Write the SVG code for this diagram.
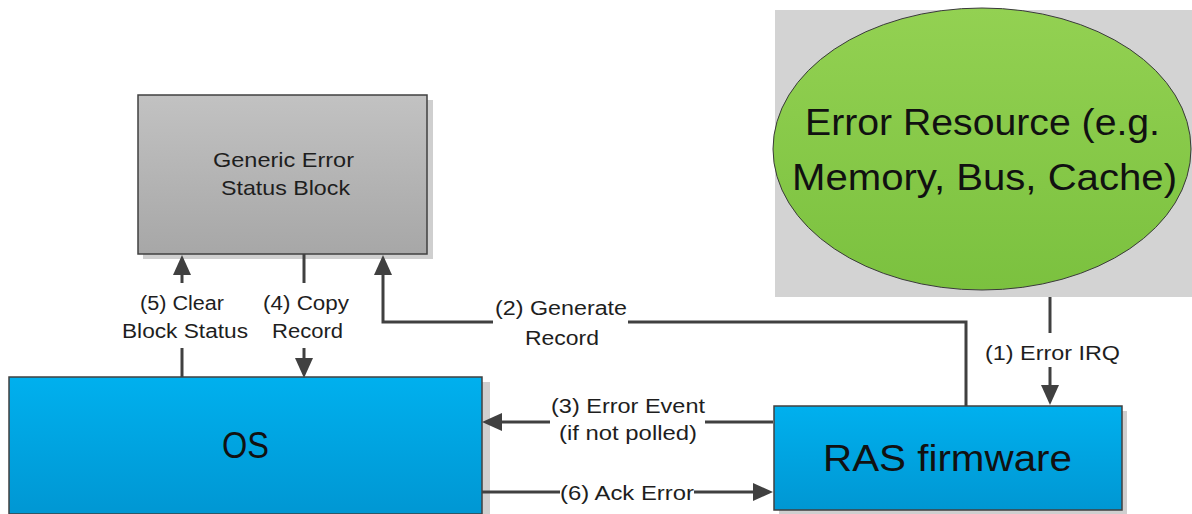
<svg xmlns="http://www.w3.org/2000/svg" width="1192" height="514" viewBox="0 0 1192 514">
<defs>
<linearGradient id="gBlue" x1="0" y1="0" x2="0" y2="1"><stop offset="0" stop-color="#00b0ee"/><stop offset="1" stop-color="#0097d3"/></linearGradient>
<linearGradient id="gGray" x1="0" y1="0" x2="0" y2="1"><stop offset="0" stop-color="#c2c2c2"/><stop offset="1" stop-color="#a7a7a7"/></linearGradient>
<linearGradient id="gGreen" x1="0" y1="0" x2="0" y2="1"><stop offset="0" stop-color="#93d152"/><stop offset="1" stop-color="#7bc13f"/></linearGradient>
<marker id="ah" markerWidth="20" markerHeight="18" refX="10" refY="9" orient="auto" markerUnits="userSpaceOnUse"><path d="M0,0 L20,9 L0,18 z" fill="#404040"/></marker>
<style>
.box{stroke:#404040;stroke-width:1.5}
.shadow{fill:#cfcfcf}
.conn{fill:none;stroke:#404040;stroke-width:3}
.lbl{font-family:"Liberation Sans",Arial,sans-serif;font-size:20px;fill:#1e1e1e;text-anchor:middle}
.big{font-family:"Liberation Sans",Arial,sans-serif;font-size:36px;fill:#111;text-anchor:middle}
.mid{font-family:"Liberation Sans",Arial,sans-serif;font-size:21px;fill:#1e1e1e;text-anchor:middle}
</style>
</defs>
<rect width="1192" height="514" fill="#ffffff"/>

<g id="error-resource">
<rect x="775" y="10" width="417" height="287" fill="#d3d3d3"/>
<ellipse cx="982" cy="149" rx="209" ry="141" fill="url(#gGreen)" stroke="#3a3a3a" stroke-width="1"/>
<text class="big" x="982.5" y="135" textLength="355" lengthAdjust="spacingAndGlyphs">Error Resource (e.g.</text>
<text class="big" x="984.5" y="190" textLength="385" lengthAdjust="spacingAndGlyphs">Memory, Bus, Cache)</text>
</g>

<g id="generic-error-status-block">
<rect class="shadow" x="143" y="100" width="290" height="159"/>
<rect class="box" x="138" y="95" width="289" height="159" fill="url(#gGray)"/>
<text class="mid" x="283.5" y="167" textLength="141" lengthAdjust="spacingAndGlyphs">Generic Error</text>
<text class="mid" x="285.5" y="195" textLength="129" lengthAdjust="spacingAndGlyphs">Status Block</text>
</g>

<g id="os">
<rect class="shadow" x="15" y="382" width="475" height="132"/>
<rect class="box" x="9" y="377" width="473" height="137" fill="url(#gBlue)"/>
<text class="big" x="245.5" y="458" font-size="38" textLength="47" lengthAdjust="spacingAndGlyphs">OS</text>
</g>

<g id="ras-firmware">
<rect class="shadow" x="779" y="411" width="348" height="103"/>
<rect class="box" x="774" y="406" width="348" height="104" fill="url(#gBlue)"/>
<text class="big" x="947.5" y="471" textLength="249" lengthAdjust="spacingAndGlyphs">RAS firmware</text>
</g>

<g id="connectors">
<path class="conn" d="M1050,297 V333"/>
<path class="conn" d="M1050,367 V395" marker-end="url(#ah)"/>
<path class="conn" d="M966,406 V322 H628"/>
<path class="conn" d="M493,322 H383 V265" marker-end="url(#ah)"/>
<path class="conn" d="M773,422 H705"/>
<path class="conn" d="M550,422 H492" marker-end="url(#ah)"/>
<path class="conn" d="M304,254 V283"/>
<path class="conn" d="M304,348 V368" marker-end="url(#ah)"/>
<path class="conn" d="M182,377 V348"/>
<path class="conn" d="M182,283 V265" marker-end="url(#ah)"/>
<path class="conn" d="M482,492 H560"/>
<path class="conn" d="M694,492 H763" marker-end="url(#ah)"/>
</g>

<g id="labels">
<text class="lbl" x="1052.5" y="360" textLength="135" lengthAdjust="spacingAndGlyphs">(1) Error IRQ</text>
<text class="lbl" x="561" y="315" textLength="132" lengthAdjust="spacingAndGlyphs">(2) Generate</text>
<text class="lbl" x="562" y="345" textLength="74" lengthAdjust="spacingAndGlyphs">Record</text>
<text class="lbl" x="628" y="413" textLength="154" lengthAdjust="spacingAndGlyphs">(3) Error Event</text>
<text class="lbl" x="628" y="440" textLength="138" lengthAdjust="spacingAndGlyphs">(if not polled)</text>
<text class="lbl" x="306" y="310" textLength="86" lengthAdjust="spacingAndGlyphs">(4) Copy</text>
<text class="lbl" x="307.5" y="338" textLength="71" lengthAdjust="spacingAndGlyphs">Record</text>
<text class="lbl" x="182" y="310" textLength="84" lengthAdjust="spacingAndGlyphs">(5) Clear</text>
<text class="lbl" x="185" y="338" textLength="126" lengthAdjust="spacingAndGlyphs">Block Status</text>
<text class="lbl" x="627" y="500" textLength="134" lengthAdjust="spacingAndGlyphs">(6) Ack Error</text>
</g>
</svg>
